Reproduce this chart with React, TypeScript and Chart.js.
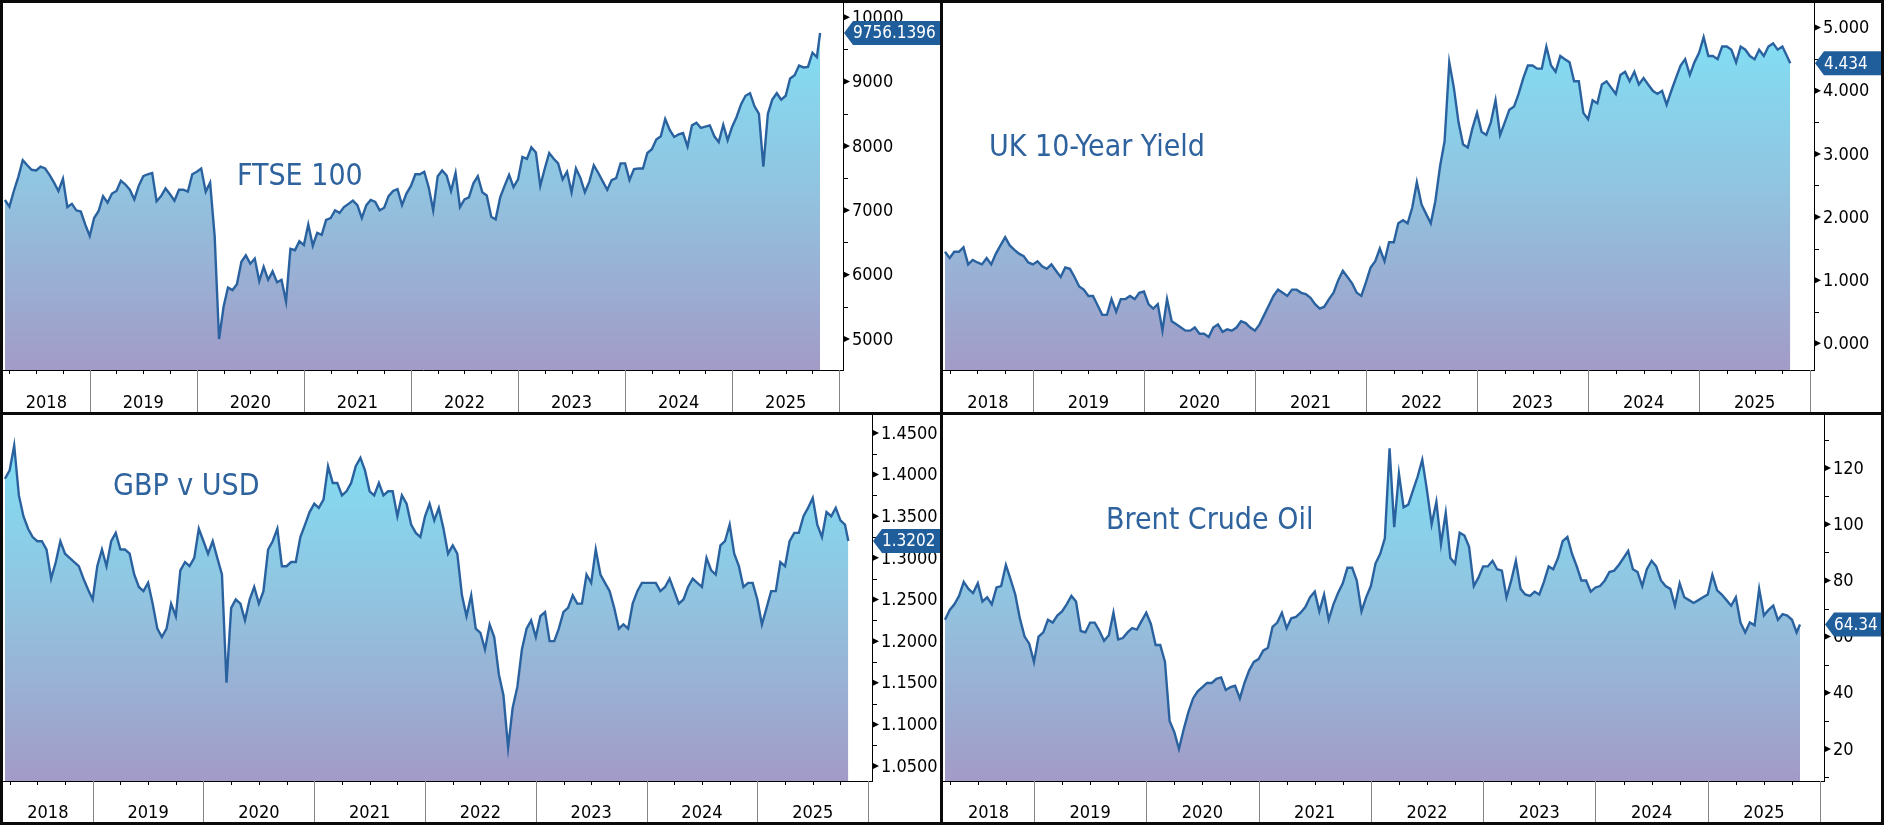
import { useEffect, useRef } from "react";
import { Chart, registerables, type Plugin } from "chart.js";

Chart.register(...registerables);

const FONT = '"DejaVu Sans Condensed", "DejaVu Sans", sans-serif';
const LINE = "#2a62a0";
const TITLE = "#2f639e";
const FLAG = "#1f5d9b";

const X_MIN = 2018.19;
const X_MAX = 2026.035;

const years = [2018, 2019, 2020, 2021, 2022, 2023, 2024, 2025];

// readings taken on the 1st and 16th of each month, 16 Mar 2018 .. 16 Oct 2025, then the last print
const ftse = [
  7160, 7057, 7300, 7520, 7780, 7700, 7630, 7620, 7680, 7650, 7550, 7430, 7300, 7490, 7050, 7100, 7000, 6980, 6780,
  6600, 6880, 6990, 7220, 7120, 7260, 7300, 7460, 7400, 7320, 7170, 7380, 7530, 7560, 7580, 7140, 7220, 7340, 7250, 7150, 7320, 7320, 7290, 7560,
  7600, 7650, 7290, 7430, 6600, 5000, 5500, 5800, 5760, 5850, 6200, 6300, 6170, 6250, 5900, 6120, 5920, 6050, 5880, 5920, 5580, 6400, 6380, 6520,
  6460, 6780, 6450, 6650, 6620, 6850, 6880, 7000, 6960, 7050, 7100, 7150, 7080, 6880, 7080, 7160, 7130, 7000, 7040, 7220, 7300, 7330, 7080, 7260,
  7380, 7560, 7560, 7600, 7350, 7000, 7530, 7620, 7540, 7300, 7580, 7050, 7170, 7200, 7420, 7530, 7280, 7230, 6900, 6860, 7200, 7380, 7550, 7360,
  7480, 7830, 7800, 7980, 7900, 7380, 7650, 7890, 7800, 7730, 7480, 7600, 7280, 7650, 7500, 7280, 7450, 7700, 7580, 7450, 7320, 7470, 7500, 7730,
  7730, 7470, 7640, 7650, 7650, 7890, 7950, 8100, 8150, 8420, 8250, 8140, 8180, 8200, 7990, 8320, 8360, 8280, 8300, 8320, 8150, 8060, 8330, 8090,
  8300, 8450, 8650, 8780, 8820, 8620, 8500, 7680, 8500, 8720, 8820, 8720, 8780, 9050, 9100, 9250, 9220, 9230, 9450, 9380, 9756.1396,
];

const gilt = [
  1.45, 1.35, 1.45, 1.45, 1.52, 1.25, 1.32, 1.28, 1.25, 1.35, 1.25, 1.42, 1.55, 1.68, 1.55, 1.48, 1.42, 1.38, 1.28,
  1.25, 1.3, 1.22, 1.18, 1.25, 1.15, 1.05, 1.2, 1.18, 1.05, 0.9, 0.85, 0.75, 0.75, 0.6, 0.45, 0.45, 0.7, 0.5, 0.7, 0.7, 0.75, 0.7, 0.8,
  0.82, 0.62, 0.55, 0.62, 0.2, 0.7, 0.35, 0.3, 0.25, 0.2, 0.2, 0.25, 0.15, 0.15, 0.1, 0.25, 0.3, 0.18, 0.22, 0.2, 0.25, 0.35, 0.32, 0.25,
  0.2, 0.3, 0.45, 0.6, 0.75, 0.85, 0.8, 0.75, 0.85, 0.85, 0.8, 0.78, 0.72, 0.62, 0.55, 0.58, 0.7, 0.8, 1.0, 1.15, 1.05, 0.95, 0.8, 0.75,
  0.97, 1.2, 1.3, 1.5, 1.3, 1.6, 1.6, 1.9, 1.95, 1.9, 2.15, 2.55, 2.2, 2.05, 1.9, 2.25, 2.8, 3.2, 4.45, 4.05, 3.5, 3.15, 3.1, 3.4,
  3.65, 3.35, 3.3, 3.5, 3.85, 3.3, 3.5, 3.7, 3.75, 3.95, 4.2, 4.4, 4.4, 4.35, 4.35, 4.7, 4.4, 4.3, 4.55, 4.5, 4.45, 4.15, 4.15, 3.65,
  3.55, 3.85, 3.8, 4.1, 4.15, 4.05, 3.95, 4.25, 4.3, 4.15, 4.3, 4.1, 4.2, 4.1, 4.0, 3.95, 4.0, 3.78, 4.0, 4.2, 4.4, 4.5, 4.25, 4.45,
  4.6, 4.85, 4.55, 4.55, 4.5, 4.7, 4.7, 4.65, 4.45, 4.7, 4.65, 4.55, 4.5, 4.65, 4.55, 4.7, 4.75, 4.65, 4.7, 4.55, 4.434,
];

const cable = [
  1.395, 1.405, 1.435, 1.375, 1.35, 1.335, 1.325, 1.32, 1.32, 1.31, 1.275, 1.295, 1.32, 1.305, 1.3, 1.295, 1.29, 1.275, 1.262,
  1.25, 1.29, 1.31, 1.29, 1.32, 1.33, 1.31, 1.31, 1.305, 1.28, 1.265, 1.26, 1.27, 1.245, 1.215, 1.205, 1.215, 1.245, 1.23, 1.285, 1.295, 1.29, 1.3, 1.335,
  1.32, 1.305, 1.32, 1.3, 1.28, 1.15, 1.24, 1.25, 1.245, 1.225, 1.25, 1.265, 1.245, 1.26, 1.31, 1.32, 1.335, 1.29, 1.29, 1.295, 1.295, 1.325, 1.34, 1.355,
  1.365, 1.36, 1.37, 1.41, 1.39, 1.39, 1.375, 1.38, 1.39, 1.41, 1.42, 1.405, 1.38, 1.375, 1.39, 1.375, 1.38, 1.38, 1.35, 1.375, 1.365, 1.34, 1.33, 1.325,
  1.35, 1.365, 1.345, 1.36, 1.335, 1.305, 1.315, 1.305, 1.255, 1.23, 1.255, 1.215, 1.21, 1.19, 1.22, 1.205, 1.16, 1.135, 1.072, 1.12, 1.145, 1.19, 1.215, 1.225,
  1.205, 1.23, 1.235, 1.2, 1.2, 1.215, 1.235, 1.24, 1.255, 1.245, 1.245, 1.28, 1.27, 1.31, 1.28, 1.27, 1.26, 1.24, 1.215, 1.22, 1.215, 1.245, 1.26, 1.27,
  1.27, 1.27, 1.27, 1.26, 1.265, 1.275, 1.26, 1.245, 1.25, 1.265, 1.275, 1.27, 1.265, 1.3, 1.285, 1.28, 1.315, 1.32, 1.34, 1.305, 1.29, 1.265, 1.27, 1.27,
  1.25, 1.22, 1.24, 1.26, 1.26, 1.295, 1.29, 1.32, 1.33, 1.33, 1.35, 1.36, 1.372, 1.34, 1.325, 1.355, 1.35, 1.36, 1.345, 1.34, 1.3202,
];

const brent = [
  66, 69.5, 71.5, 74.5, 79.5, 77, 75.5, 79, 72.5, 74, 71.5, 77.5, 78, 85.5, 80.5, 75, 66.5, 60, 57.5,
  51, 60, 61.5, 66, 65, 67.5, 69, 71.5, 74.5, 72.5, 62, 61.5, 65, 65, 62, 58.5, 60.5, 68.5, 59, 59.5, 61.5, 63, 62.5, 65.5,
  68.5, 64.5, 57, 57, 51, 30, 26, 20, 27, 33, 38, 40.5, 42, 43.5, 43.5, 45, 45.5, 41, 42, 42.5, 38, 43.5, 48, 51,
  52, 55, 56, 63.5, 65, 68.5, 63, 66.5, 67, 68.5, 70.5, 74, 76, 69, 75, 66, 71.5, 75.5, 79, 84.5, 84.5, 80, 69, 74,
  78, 86, 89.5, 95, 127, 99, 118, 106, 107, 112, 117, 123, 112, 100, 108, 93, 104, 88, 86, 97, 96, 92, 78, 81,
  85, 85, 87, 84, 83.5, 74, 80, 87, 77, 75, 74.5, 76, 75, 79.5, 85, 84, 88, 94, 95.5, 89.5, 85, 80, 80, 76,
  77.5, 78, 80, 83, 83.5, 85.5, 88, 90.5, 84, 83, 78, 84, 87, 85, 80, 78, 77, 71, 79, 74, 73, 72, 73, 74,
  75, 82, 76.5, 75, 73, 71, 74, 65, 61.5, 65, 64, 77, 67.5, 69.5, 71, 66, 68, 67.5, 66, 61.5, 64.34,
];

const ftseTicks = [5000, 6000, 7000, 8000, 9000, 10000];
const giltTicks = [0, 1, 2, 3, 4, 5];
const cableTicks = [1.05, 1.1, 1.15, 1.2, 1.25, 1.3, 1.35, 1.4, 1.45];
const brentTicks = [20, 40, 60, 80, 100, 120];

function sampleDates(): number[] {
  const out: number[] = [];
  for (let y = 2018; y <= 2025; y++) {
    for (let m = 1; m <= 12; m++) {
      for (const d of [1, 16]) {
        if (y === 2018 && (m < 3 || (m === 3 && d === 1))) continue;
        if (y === 2025 && m > 10) continue;
        out.push(y + (m - 1) / 12 + (d - 1) / 365);
      }
    }
  }
  out.push(2025 + 9 / 12 + 26 / 365);
  return out;
}

interface PanelProps {
  title: string;
  titleX: number;
  titleY: number;
  values: number[];
  ticks: number[];
  decimals: number;
  lastLabel: string;
  yMin: number;
  yMax: number;
  axisWidth: number;
  axisHeight: number;
  left: number;
  top: number;
  width: number;
  height: number;
}

function Panel(p: PanelProps) {
  const canvasRef = useRef<HTMLCanvasElement>(null);

  useEffect(() => {
    if (!canvasRef.current) return;
    const dates = sampleDates();
    const n = Math.min(dates.length, p.values.length);
    const points = p.values.slice(0, n).map((v, i) => ({ x: dates[i], y: v }));

    const decor: Plugin<"line"> = {
      id: "decor",
      afterDraw(chart) {
        const { ctx, chartArea: a, scales } = chart;
        const xs = scales.x;
        const ys = scales.y;
        const H = chart.height;
        const W = chart.width;
        ctx.save();

        // right axis: minor dashes and major arrow ticks
        ctx.strokeStyle = "#000";
        ctx.fillStyle = "#000";
        ctx.lineWidth = 1;
        const half = (p.ticks[1] - p.ticks[0]) / 2;
        const minors = [p.ticks[0] - half, ...p.ticks.map((t) => t + half)].filter(
          (v) => v >= ys.min && v <= ys.max,
        );
        for (const v of minors) {
          const y = Math.round(ys.getPixelForValue(v)) + 0.5;
          ctx.beginPath();
          ctx.moveTo(a.right, y);
          ctx.lineTo(a.right + 5, y);
          ctx.stroke();
        }
        for (const v of p.ticks) {
          const y = ys.getPixelForValue(v);
          ctx.beginPath();
          ctx.moveTo(a.right, y - 3.5);
          ctx.lineTo(a.right + 7, y);
          ctx.lineTo(a.right, y + 3.5);
          ctx.closePath();
          ctx.fill();
        }
        ctx.font = `18px ${FONT}`;
        ctx.fillStyle = "#000";
        ctx.textAlign = "left";
        ctx.textBaseline = "middle";
        for (const v of p.ticks) {
          ctx.fillText(v.toFixed(p.decimals), a.right + 9, ys.getPixelForValue(v) + 1);
        }

        // bottom band: year separators, quarter ticks, year labels
        ctx.textAlign = "center";
        ctx.textBaseline = "alphabetic";
        for (const yr of years) {
          const x0 = xs.getPixelForValue(Math.max(yr, xs.min));
          const x1 = xs.getPixelForValue(yr + 1);
          const sx = Math.round(x1) + 0.5;
          ctx.strokeStyle = "#858585";
          ctx.beginPath();
          ctx.moveTo(sx, a.bottom);
          ctx.lineTo(sx, H);
          ctx.stroke();
          ctx.strokeStyle = "#000";
          for (const q of [0.25, 0.5, 0.75]) {
            if (yr + q < xs.min) continue;
            const qx = Math.round(xs.getPixelForValue(yr + q)) + 0.5;
            ctx.beginPath();
            ctx.moveTo(qx, a.bottom);
            ctx.lineTo(qx, a.bottom + 4);
            ctx.stroke();
          }
          ctx.fillStyle = "#000";
          ctx.fillText(String(yr), (x0 + x1) / 2, H - 4);
        }

        // title
        ctx.font = `30px ${FONT}`;
        ctx.fillStyle = TITLE;
        ctx.textAlign = "left";
        ctx.fillText(p.title, p.titleX, p.titleY);

        // last value flag
        const last = p.values[n - 1];
        const fy = ys.getPixelForValue(last);
        const tip = a.right + 1;
        ctx.fillStyle = FLAG;
        ctx.beginPath();
        ctx.moveTo(tip, fy);
        ctx.lineTo(tip + 9, fy - 12);
        ctx.lineTo(W, fy - 12);
        ctx.lineTo(W, fy + 12);
        ctx.lineTo(tip + 9, fy + 12);
        ctx.closePath();
        ctx.fill();
        ctx.font = `17px ${FONT}`;
        ctx.fillStyle = "#fff";
        ctx.textBaseline = "middle";
        ctx.fillText(p.lastLabel, tip + 9, fy + 1);

        ctx.restore();
      },
    };

    const chart = new Chart(canvasRef.current, {
      type: "line",
      data: {
        datasets: [
          {
            data: points,
            borderColor: LINE,
            borderWidth: 2.4,
            pointRadius: 0,
            tension: 0,
            fill: "start",
            backgroundColor: (ctx) => {
              const area = ctx.chart.chartArea;
              if (!area) return "#90c4e0";
              const g = ctx.chart.ctx.createLinearGradient(0, area.top, 0, area.bottom);
              g.addColorStop(0, "#7ee4f8");
              g.addColorStop(0.5, "#91c4e0");
              g.addColorStop(1, "#a29bc7");
              return g;
            },
          },
        ],
      },
      options: {
        animation: false,
        responsive: false,
        maintainAspectRatio: false,
        layout: { padding: 0 },
        plugins: { legend: { display: false }, tooltip: { enabled: false } },
        scales: {
          x: {
            type: "linear",
            position: "bottom",
            min: X_MIN,
            max: X_MAX,
            grid: { display: false, drawTicks: false },
            border: { display: true, color: "#000", width: 1 },
            ticks: { display: false },
            afterFit: (s) => {
              s.height = p.axisHeight;
            },
          },
          y: {
            type: "linear",
            position: "right",
            min: p.yMin,
            max: p.yMax,
            grid: { display: false, drawTicks: false },
            border: { display: true, color: "#000", width: 1 },
            ticks: { display: false },
            afterFit: (s) => {
              s.width = p.axisWidth;
              s.paddingTop = 0;
              s.paddingBottom = 0;
            },
          },
        },
      },
      plugins: [decor],
    });

    return () => {
      chart.destroy();
    };
  }, []);

  return (
    <div
      style={{
        position: "absolute",
        left: p.left,
        top: p.top,
        width: p.width,
        height: p.height,
        background: "#fff",
      }}
    >
      <canvas
        ref={canvasRef}
        width={p.width}
        height={p.height}
        style={{ display: "block", width: p.width, height: p.height }}
      />
    </div>
  );
}

export default function App() {
  return (
    <div style={{ position: "relative", width: 1884, height: 825, background: "#0a0a0a", overflow: "hidden" }}>
      <style>{"body{margin:0}"}</style>
      <Panel
        title="FTSE 100"
        titleX={234}
        titleY={182}
        values={ftse}
        ticks={ftseTicks}
        decimals={0}
        lastLabel="9756.1396"
        yMin={4518}
        yMax={10222}
        axisWidth={97}
        axisHeight={42}
        left={3}
        top={3}
        width={937}
        height={409}
      />
      <Panel
        title="UK 10-Year Yield"
        titleX={46}
        titleY={153}
        values={gilt}
        ticks={giltTicks}
        decimals={3}
        lastLabel="4.434"
        yMin={-0.423}
        yMax={5.39}
        axisWidth={67}
        axisHeight={42}
        left={943}
        top={3}
        width={938}
        height={409}
      />
      <Panel
        title="GBP v USD"
        titleX={110}
        titleY={80}
        values={cable}
        ticks={cableTicks}
        decimals={4}
        lastLabel="1.3202"
        yMin={1.032}
        yMax={1.4716}
        axisWidth={68}
        axisHeight={41}
        left={3}
        top={415}
        width={937}
        height={407}
      />
      <Panel
        title="Brent Crude Oil"
        titleX={163}
        titleY={114}
        values={brent}
        ticks={brentTicks}
        decimals={0}
        lastLabel="64.34"
        yMin={8.6}
        yMax={138.9}
        axisWidth={57}
        axisHeight={41}
        left={943}
        top={415}
        width={938}
        height={407}
      />
    </div>
  );
}
